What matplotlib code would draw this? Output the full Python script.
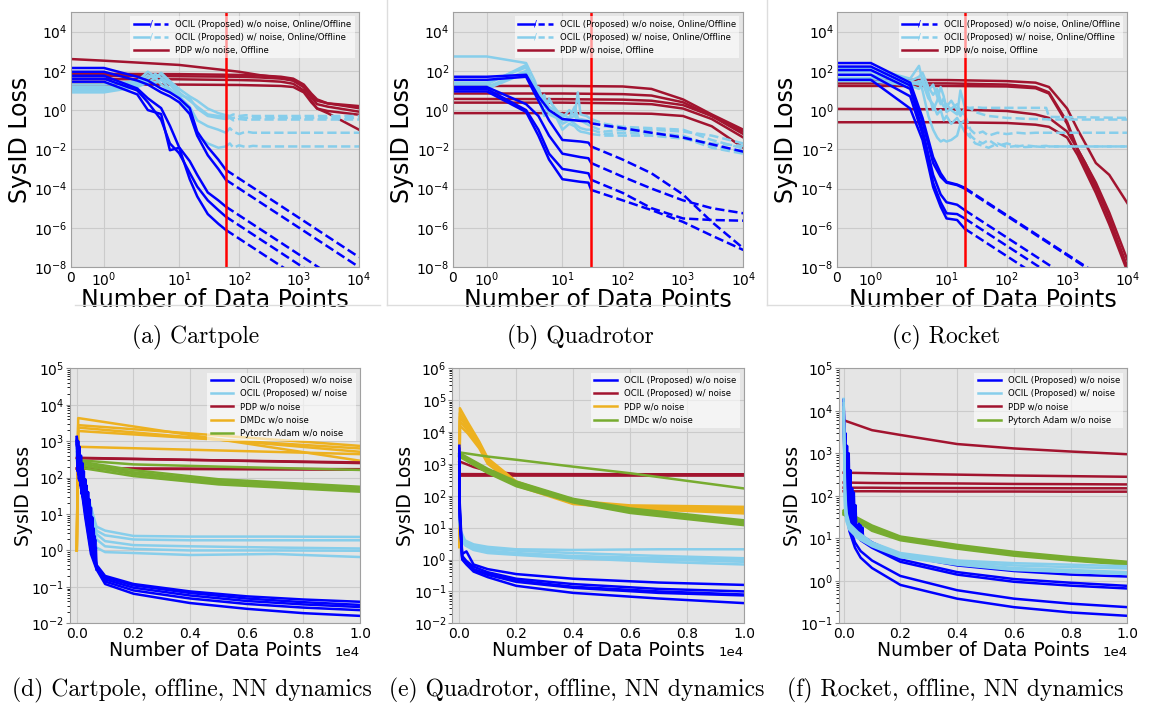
import matplotlib
matplotlib.use("Agg")
import matplotlib.pyplot as plt
import matplotlib.ticker as mticker
from matplotlib.lines import Line2D
from matplotlib.text import Text
from matplotlib.legend_handler import HandlerBase

plt.rcParams["axes.unicode_minus"] = False

BLUE = "#0000ff"
SKY = "#87ceeb"
RED = "#a2142f"
ORANGE = "#edb120"
GREEN = "#77ac30"
BG = "#e5e5e5"

# ---------------- (a) Cartpole ----------------
a_split = 60
a_blue_x = [0, 1, 2, 3, 5, 7, 10, 15, 20, 30, 45, 60]
a_blue = [
    [140, 140, 50, 32, 12.6, 8, 4, 1.26, 0.08, 0.013, 0.003, 9e-4],
    [90, 90, 32, 20, 8, 5, 2.5, 0.63, 0.05, 0.005, 1e-3, 2.8e-4],
    [56, 56, 12.6, 4, 1.26, 0.16, 0.0126, 2.5e-3, 5e-4, 6.3e-5, 2.5e-5, 1.2e-5],
    [40, 40, 10, 2.5, 0.32, 0.02, 6.3e-3, 6.3e-4, 1.26e-4, 2.5e-5, 8e-6, 3.7e-6],
    [28, 28, 6.3, 1, 0.63, 0.009, 0.012, 3e-4, 4e-5, 5e-6, 1.6e-6, 7.8e-7],
]
a_blue_off_x = [60, 10000]
a_blue_off = [[9e-4, 3.2e-8], [2.8e-4, 1e-8], [1.2e-5, 4.3e-10],
              [3.7e-6, 1.3e-10], [7.8e-7, 2.8e-11]]
a_sky_x = [0, 1, 2, 3, 4, 5, 7, 10, 15, 20, 30, 45, 60]
a_sky = [
    [12, 12, 25, 60, 40, 80, 30, 12, 5, 3, 1.2, 0.7, 0.55],
    [20, 20, 30, 90, 50, 70, 25, 8, 3, 1.5, 0.6, 0.5, 0.45],
    [15, 15, 20, 40, 70, 45, 20, 6, 4, 1.2, 0.5, 0.4, 0.35],
    [10, 10, 18, 30, 25, 35, 12, 5, 1.5, 0.3, 0.15, 0.1, 0.07],
    [8, 8, 15, 25, 45, 20, 10, 4, 0.8, 0.05, 0.02, 0.012, 0.014],
]
a_sky_off_x = [60, 70, 80, 100, 130, 170, 250, 10000]
a_sky_off = [
    [0.55, 0.5, 0.6, 0.5, 0.55, 0.5, 0.5, 0.5],
    [0.45, 0.42, 0.4, 0.45, 0.4, 0.42, 0.4, 0.4],
    [0.35, 0.4, 0.3, 0.35, 0.32, 0.33, 0.33, 0.33],
    [0.07, 0.12, 0.08, 0.06, 0.08, 0.07, 0.07, 0.07],
    [0.014, 0.02, 0.012, 0.016, 0.013, 0.015, 0.014, 0.014],
]
a_red_x = [0, 1, 10, 100, 224, 500, 800, 1200, 1600, 2000, 3000, 10000]
a_red = [
    [400, 330, 200, 90, 60, 45, 32, 15, 5, 3, 2.2, 1.6],
    [70, 70, 68, 62, 58, 50, 40, 20, 7, 3.5, 2.2, 1.25],
    [55, 55, 53, 50, 46, 40, 32, 15, 4.5, 2, 1.5, 0.83],
    [38, 38, 37, 34, 32, 28, 22, 10, 3, 1.2, 0.9, 0.58],
    [20, 20, 20, 19, 18, 17, 15, 8, 2.5, 1.2, 0.7, 0.1],
]

# ---------------- (b) Quadrotor ----------------
b_split = 30
b_blue_x = [0, 1, 2.5, 4, 6, 10, 20, 27, 30]
b_blue = [
    [50, 50, 63, 5, 1, 0.35, 0.28, 0.27, 0.21],
    [35, 35, 50, 3, 0.3, 0.03, 0.025, 0.022, 0.014],
    [15, 15, 2, 0.5, 0.05, 0.006, 0.004, 0.0035, 0.002],
    [12, 12, 1.0, 0.1, 0.006, 1e-3, 7e-4, 6e-4, 2.8e-4],
    [9, 9, 0.8, 0.05, 0.003, 3e-4, 2.2e-4, 2e-4, 8.5e-5],
]
b_blue_off_x = [30, 100, 300, 1000, 3000, 10000]
b_blue_off = [
    [0.21, 0.12, 0.07, 0.04, 0.018, 0.0076],
    [0.014, 3e-3, 6e-4, 5e-5, 2e-6, 9e-8],
    [0.002, 4e-4, 1e-4, 2.5e-5, 1e-5, 5.5e-6],
    [2.8e-4, 6e-5, 1e-5, 3e-6, 2.5e-6, 2.3e-6],
    [8.5e-5, 2.5e-5, 8e-6, 2e-6, 4e-7, 7.4e-8],
]
b_sky_x = [0, 1, 2.5, 3.5, 4, 5, 6, 8, 10, 13, 16, 18, 20, 25, 30]
b_sky = [
    [540, 540, 250, 30, 8, 3, 1.5, 0.8, 0.6, 0.4, 0.5, 0.3, 0.35, 0.3, 0.25],
    [25, 25, 150, 10, 15, 1.5, 3, 1, 0.4, 1, 0.5, 8, 0.6, 0.5, 0.35],
    [15, 15, 100, 15, 5, 0.5, 4, 0.7, 0.3, 0.4, 1.5, 0.4, 0.3, 0.2, 0.15],
    [20, 20, 200, 8, 12, 2, 0.8, 0.5, 0.2, 0.3, 0.2, 0.15, 0.12, 0.1, 0.1],
    [12, 12, 80, 20, 3, 6, 0.6, 0.4, 0.1, 0.2, 0.15, 0.1, 0.08, 0.07, 0.06],
]
b_sky_off_x = [30, 50, 100, 300, 1000, 3000, 10000]
b_sky_off = [
    [0.25, 0.15, 0.12, 0.1, 0.08, 0.05, 0.02],
    [0.35, 0.2, 0.14, 0.12, 0.1, 0.03, 0.011],
    [0.15, 0.08, 0.1, 0.07, 0.05, 0.015, 0.0076],
    [0.1, 0.06, 0.07, 0.06, 0.04, 0.012, 0.006],
    [0.06, 0.05, 0.05, 0.05, 0.035, 0.02, 0.015],
]
b_red_x = [0, 10, 100, 300, 1000, 3000, 10000]
b_red = [
    [17, 17, 16, 12, 3.5, 0.6, 0.1],
    [7, 7, 6.5, 5.5, 2.5, 0.5, 0.08],
    [3.7, 3.6, 3.4, 3.0, 1.8, 0.5, 0.06],
    [2.4, 2.4, 2.2, 2.0, 1.2, 0.35, 0.04],
    [0.7, 0.7, 0.68, 0.65, 0.5, 0.15, 0.012],
]

# ---------------- (c) Rocket ----------------
c_split = 20
c_blue_x = [0, 1, 2.5, 4, 6, 8, 10, 15, 20]
c_blue = [
    [250, 250, 25, 0.4, 4e-3, 6e-4, 2.2e-4, 1.6e-4, 1.1e-4],
    [165, 165, 18, 0.25, 2e-3, 4e-4, 2e-4, 1.5e-4, 1e-4],
    [110, 110, 12, 0.1, 5e-4, 5e-5, 2e-5, 1.5e-5, 8e-6],
    [63, 63, 5, 0.06, 2e-4, 2e-5, 5.5e-6, 5e-6, 3e-6],
    [35, 35, 1.2, 0.03, 1.2e-4, 1.2e-5, 3e-6, 2.5e-6, 9e-7],
]
c_blue_off_x = [20, 10000]
c_blue_off = [[1.1e-4, 4.4e-10], [1e-4, 4e-10], [8e-6, 3.2e-11],
              [3e-6, 1.2e-11], [9e-7, 3.6e-12]]
c_sky_x = [0, 1, 2.5, 3.5, 4, 5, 6, 7, 8, 9, 10, 12, 15, 17, 20]
c_sky = [
    [140, 140, 40, 180, 30, 10, 20, 5, 2, 4, 1.5, 3, 1, 0.5, 1.2],
    [93, 93, 30, 50, 80, 15, 6, 12, 3, 1.5, 2, 1, 0.6, 10, 1.5],
    [63, 63, 25, 20, 40, 8, 1, 3, 15, 5, 0.8, 1.2, 2, 0.8, 0.6],
    [43, 43, 20, 30, 10, 0.5, 0.1, 0.04, 0.025, 0.03, 0.025, 0.03, 0.05, 0.2, 0.3],
    [30, 30, 18, 12, 25, 4, 2, 0.6, 1, 0.3, 0.5, 0.2, 0.4, 0.2, 0.08],
]
c_sky_off_x = [20, 25, 30, 40, 50, 70, 100, 150, 200, 300, 450, 500, 10000]
c_sky_off = [
    [1.2, 1.3, 1.4, 1.3, 1.3, 1.3, 1.3, 1.3, 1.3, 1.3, 1.3, 0.45, 0.4],
    [1.5, 1.2, 0.8, 0.6, 0.5, 0.45, 0.4, 0.38, 0.36, 0.35, 0.34, 0.33, 0.33],
    [0.6, 0.1, 0.06, 0.08, 0.05, 0.07, 0.06, 0.07, 0.065, 0.07, 0.07, 0.07, 0.07],
    [0.3, 0.05, 0.03, 0.02, 0.03, 0.015, 0.02, 0.014, 0.016, 0.014, 0.015, 0.014, 0.014],
    [0.08, 0.04, 0.02, 0.015, 0.012, 0.02, 0.013, 0.015, 0.013, 0.014, 0.013, 0.014, 0.014],
]
c_red_x = [0, 10, 100, 300, 500, 1000, 1500, 2000, 3000, 5000, 10000]
c_red = [
    [35, 34, 30, 25, 15, 1.2, 0.1, 0.02, 2e-3, 5e-4, 1.8e-5],
    [23, 23, 20, 15, 8, 0.25, 0.01, 2e-3, 2e-4, 6e-6, 2.3e-8],
    [17, 17, 16, 13, 7, 0.2, 8e-3, 1.2e-3, 1e-4, 3e-6, 8e-9],
    [1.15, 1.1, 0.9, 0.6, 0.4, 0.08, 0.01, 2e-3, 1.5e-4, 3e-6, 1e-8],
    [0.24, 0.24, 0.22, 0.18, 0.14, 0.04, 5e-3, 8e-4, 6e-5, 1.5e-6, 6e-9],
]

# ---------------- (d) Cartpole, offline, NN ----------------
d_orange_x = [0, 50, 10000]
d_orange = [[1, 4300, 290], [1, 2750, 740], [1, 2350, 510], [1, 1900, 630], [1, 700, 440]]
d_red_x = [0, 10000]
d_red = [[350, 250], [340, 260], [180, 170], [175, 165]]
d_green_x = [50, 2000, 5000, 10000]
d_green = [[300, 230, 200, 162], [280, 160, 90, 56], [250, 140, 80, 50],
           [220, 125, 72, 46], [190, 110, 65, 41]]
d_sky_x = [0, 100, 300, 600, 700, 1000, 2000, 4000, 7000, 10000]
d_sky = [
    [800, 300, 60, 8, 4.5, 3.5, 2.5, 2.4, 2.4, 2.35],
    [600, 200, 40, 6, 3.5, 2.6, 2.0, 1.9, 1.9, 1.9],
    [500, 150, 30, 5, 2.8, 1.8, 1.4, 1.3, 1.2, 1.13],
    [400, 120, 25, 4, 2.0, 1.3, 1.1, 1.0, 1.0, 0.98],
    [300, 100, 20, 3, 1.2, 0.9, 0.85, 0.75, 0.8, 0.66],
]
d_blue_x = [0, 100, 300, 500, 700, 1000, 2000, 4000, 6000, 8000, 10000]
d_blue = [
    [1300, 300, 20, 2, 0.4, 0.2, 0.12, 0.075, 0.055, 0.045, 0.039],
    [1100, 250, 15, 1.5, 0.37, 0.18, 0.11, 0.068, 0.048, 0.038, 0.032],
    [1000, 200, 12, 1.2, 0.34, 0.16, 0.095, 0.058, 0.041, 0.033, 0.028],
    [900, 150, 10, 1.0, 0.32, 0.14, 0.08, 0.048, 0.034, 0.027, 0.023],
    [800, 120, 8, 0.8, 0.3, 0.12, 0.065, 0.036, 0.025, 0.019, 0.016],
]
d_noise_x = [0, 25, 50, 75, 100, 125, 150, 175, 200, 225, 250, 275, 300, 325, 350,
             375, 400, 425, 450, 475, 500, 525, 550, 575, 600, 625, 650, 675, 700]
d_noise = [
    [1300, 150, 1000, 90, 700, 60, 400, 35, 250, 25, 150, 15, 90, 10, 60,
     6, 40, 4, 25, 2.5, 15, 1.6, 8, 1.0, 4, 0.7, 2, 0.5, 0.35],
    [1000, 600, 120, 500, 80, 300, 50, 200, 30, 130, 20, 80, 12, 50, 8,
     30, 5, 20, 3, 12, 2, 7, 1.2, 4, 0.8, 2.5, 0.6, 1.2, 0.3],
]

# ---------------- (e) Quadrotor, offline, NN ----------------
e_orange_x = [0, 20, 300, 700, 1000, 2000, 4000, 6000, 10000]
e_orange = [
    [2.5, 5.6e4, 2e4, 5000, 1500, 280, 70, 50, 45],
    [2.5, 4e4, 1.6e4, 4500, 1300, 260, 65, 47, 40],
    [2.5, 3e4, 1.3e4, 4000, 1200, 240, 60, 44, 35],
    [2.5, 2.2e4, 1.1e4, 3500, 1100, 230, 58, 42, 32],
    [2.5, 1.6e4, 9000, 3100, 1000, 210, 55, 40, 28],
]
e_green_x = [0, 1000, 2000, 4000, 6000, 10000]
e_green = [
    [2300, 1700, 1350, 820, 510, 170],
    [2200, 700, 280, 80, 40, 17],
    [2050, 650, 260, 75, 37, 15.5],
    [1900, 600, 240, 70, 34, 14],
    [1800, 550, 220, 65, 31, 13],
    [1700, 520, 200, 62, 29, 12],
]
e_red_x = [0, 500, 1000, 2000, 10000]
e_red = [[1200, 800, 600, 480, 470], [460, 460, 460, 460, 460],
         [480, 478, 476, 474, 472], [440, 440, 442, 445, 445]]
e_sky_x = [0, 50, 200, 500, 1000, 2000, 4000, 7000, 10000]
e_sky = [
    [50, 8, 4, 3, 2.5, 2.1, 2.0, 2.1, 2.1],
    [40, 7, 3.5, 2.6, 2.2, 1.9, 1.6, 1.3, 1.1],
    [30, 6, 3.2, 2.3, 1.9, 1.6, 1.3, 1.1, 1.0],
    [25, 5.5, 3, 2.1, 1.7, 1.5, 1.2, 1.0, 0.85],
    [20, 5, 2.8, 2.0, 1.6, 1.4, 1.1, 0.85, 0.7],
]
e_blue_x = [0, 15, 100, 250, 500, 1000, 2000, 4000, 7000, 10000]
e_blue = [
    [3700, 60, 1.5, 1.8, 0.7, 0.5, 0.35, 0.25, 0.19, 0.16],
    [3000, 40, 1.3, 0.9, 0.6, 0.4, 0.25, 0.17, 0.12, 0.1],
    [2000, 30, 1.2, 0.8, 0.5, 0.35, 0.22, 0.14, 0.1, 0.08],
    [1500, 25, 1.1, 0.75, 0.48, 0.33, 0.2, 0.13, 0.09, 0.075],
    [1000, 20, 1.0, 0.7, 0.42, 0.28, 0.15, 0.09, 0.06, 0.043],
]

# ---------------- (f) Rocket, offline, NN ----------------
f_red_x = [0, 1000, 2000, 4000, 6000, 8000, 10000]
f_red = [
    [6000, 3500, 2700, 1650, 1300, 1100, 950],
    [350, 340, 330, 315, 300, 290, 280],
    [205, 200, 198, 195, 190, 188, 185],
    [155, 155, 153, 152, 151, 150, 150],
    [128, 128, 127, 126, 126, 125, 125],
]
f_green_x = [0, 500, 1000, 2000, 4000, 6000, 8000, 10000]
f_green = [
    [45, 30, 20, 11, 7, 4.8, 3.6, 2.8],
    [42, 28, 18, 10.5, 6.5, 4.5, 3.4, 2.7],
    [40, 27, 17, 10, 6.2, 4.3, 3.3, 2.6],
    [38, 26, 16, 9.5, 6, 4.1, 3.1, 2.5],
    [36, 25, 15, 9, 5.7, 3.9, 3.0, 2.4],
]
f_sky_x = [0, 50, 100, 200, 500, 1000, 2000, 4000, 6000, 8000, 10000]
f_sky = [
    [1.9e4, 150, 40, 22, 14, 8, 4.5, 3.0, 2.6, 2.4, 2.2],
    [1.5e4, 100, 35, 20, 13, 7.5, 4.2, 2.8, 2.3, 2.1, 1.95],
    [1.2e4, 80, 30, 18, 12, 7, 4, 2.6, 2.0, 1.8, 1.6],
    [1e4, 60, 28, 17, 11, 6.8, 3.8, 2.5, 1.9, 1.7, 1.5],
    [8000, 50, 25, 16, 10, 6.5, 3.6, 2.4, 1.8, 1.6, 1.45],
]
f_blue_x = [0, 30, 100, 200, 400, 600, 1000, 2000, 4000, 6000, 8000, 10000]
f_blue = [
    [1.8e4, 2000, 300, 60, 20, 12, 8, 4, 2.3, 1.7, 1.4, 1.26],
    [1.5e4, 1500, 200, 40, 15, 10, 6.5, 3.2, 1.6, 1.1, 0.9, 0.76],
    [1.2e4, 1000, 150, 30, 14, 9, 6, 2.8, 1.4, 0.95, 0.77, 0.66],
    [1e4, 800, 100, 20, 8, 5, 3, 1.3, 0.6, 0.38, 0.29, 0.24],
    [8000, 600, 60, 15, 6, 3.5, 2, 0.8, 0.38, 0.24, 0.18, 0.15],
]
f_noise_x = [0, 30, 60, 90, 120, 150, 180, 210, 240, 270, 300, 330,
             360, 390, 420, 450, 480, 510, 540, 570, 600, 630, 660, 690]
f_noise = [1.8e4, 1000, 3000, 200, 1500, 100, 1000, 60, 400, 40, 150, 30,
           120, 25, 60, 15, 20, 12, 22, 11, 20, 10, 18, 10]


class SolidSlashDashed(HandlerBase):
    def create_artists(self, legend, orig_handle, xdescent, ydescent,
                       width, height, fontsize, trans):
        c = orig_handle.get_color()
        lw = orig_handle.get_linewidth()
        y = height / 2 - ydescent
        x0 = -xdescent
        solid = Line2D([x0, x0 + 0.45 * width], [y, y], color=c, lw=lw)
        dashed = Line2D([x0 + 0.58 * width, x0 + width], [y, y], color=c, lw=lw,
                        ls=(0, (2.5, 1.5)))
        slash = Text(x0 + 0.5 * width, y, "/", color=c, fontsize=fontsize,
                     ha="center", va="center")
        for art in (solid, dashed, slash):
            art.set_transform(trans)
        return [solid, slash, dashed]


def style_axes(ax):
    ax.set_facecolor(BG)
    ax.grid(True, color="#cbcbcb", lw=0.8)
    ax.set_axisbelow(True)
    for sp in ax.spines.values():
        sp.set_color("#a0a0a0")
        sp.set_linewidth(0.8)
    ax.tick_params(colors="#888888", labelcolor="black", labelsize=10)


def top_panel(ax, split, bx, blue, box, boff, sx, sky, sox, soff, rx, red):
    lw = 1.8
    for y in red:
        ax.plot(rx, y, color=RED, lw=lw)
    for y in sky:
        ax.plot(sx, y, color=SKY, lw=lw)
    for y in soff:
        ax.plot(sox, y, color=SKY, lw=lw, ls="--")
    for y in blue:
        ax.plot(bx, y, color=BLUE, lw=lw)
    for y in boff:
        ax.plot(box, y, color=BLUE, lw=lw, ls="--")
    ax.axvline(split, color="red", lw=1.8)
    ax.set_xscale("symlog", linthresh=2)
    ax.set_yscale("log")
    ax.set_xlim(0, 1e4)
    ax.set_ylim(1e-8, 1e5)
    ax.set_xticks([0, 1, 10, 100, 1000, 10000])
    ax.set_yticks([1e-8, 1e-6, 1e-4, 1e-2, 1, 1e2, 1e4])
    ax.xaxis.set_minor_locator(mticker.NullLocator())
    ax.yaxis.set_minor_locator(mticker.NullLocator())
    style_axes(ax)
    ax.tick_params(length=0, pad=2.5)
    ax.set_xlabel("Number of Data Points", fontsize=17, labelpad=-1)
    ax.set_ylabel("SysID Loss", fontsize=17, labelpad=1.5)
    hb = Line2D([], [], color=BLUE, lw=lw)
    hs = Line2D([], [], color=SKY, lw=lw)
    hr = Line2D([], [], color=RED, lw=lw)
    ax.legend([hb, hs, hr],
              ["OCIL (Proposed) w/o noise, Online/Offline",
               "OCIL (Proposed) w/ noise, Online/Offline",
               "PDP w/o noise, Offline"],
              handler_map={hb: SolidSlashDashed(), hs: SolidSlashDashed()},
              loc="upper right", fontsize=6.1, handlelength=4.1,
              fancybox=False, edgecolor="none", framealpha=0.6)


def bottom_panel(ax, groups, legend_items, ylim, xmin):
    for x, ys, color in groups:
        for y in ys:
            ax.plot(x, y, color=color, lw=1.8)
    ax.set_yscale("log")
    ax.set_xlim(xmin, 1e4)
    ax.set_ylim(*ylim)
    ax.ticklabel_format(axis="x", style="sci", scilimits=(0, 0))
    ax.set_xticks([0, 2000, 4000, 6000, 8000, 10000])
    ax.yaxis.set_major_locator(mticker.LogLocator(base=10, numticks=20))
    style_axes(ax)
    ax.tick_params(axis="x", length=0, pad=3)
    ax.tick_params(axis="y", which="both", pad=1)
    ax.tick_params(axis="y", which="major", length=3)
    ax.tick_params(axis="y", which="minor", length=2)
    ax.xaxis.get_offset_text().set_fontsize(9.5)
    ax.set_xlabel("Number of Data Points", fontsize=13.5, labelpad=0)
    ax.set_ylabel("SysID Loss", fontsize=13.5, labelpad=-1)
    handles = [Line2D([], [], color=c, lw=1.8) for c, _ in legend_items]
    ax.legend(handles, [t for _, t in legend_items], loc="upper right",
              fontsize=6.1, handlelength=2.7, fancybox=False,
              edgecolor="none", framealpha=0.6)


fig = plt.figure(figsize=(11.51, 7.10), dpi=100)

ax_a = fig.add_axes([0.0614, 0.6239, 0.2505, 0.3592])
ax_b = fig.add_axes([0.3938, 0.6239, 0.2520, 0.3592])
ax_c = fig.add_axes([0.7275, 0.6239, 0.2520, 0.3592])
ax_d = fig.add_axes([0.0608, 0.1221, 0.2520, 0.3592])
ax_e = fig.add_axes([0.3930, 0.1221, 0.2534, 0.3592])
ax_f = fig.add_axes([0.7290, 0.1221, 0.2505, 0.3592])

top_panel(ax_a, a_split, a_blue_x, a_blue, a_blue_off_x, a_blue_off,
          a_sky_x, a_sky, a_sky_off_x, a_sky_off, a_red_x, a_red)
top_panel(ax_b, b_split, b_blue_x, b_blue, b_blue_off_x, b_blue_off,
          b_sky_x, b_sky, b_sky_off_x, b_sky_off, b_red_x, b_red)
top_panel(ax_c, c_split, c_blue_x, c_blue, c_blue_off_x, c_blue_off,
          c_sky_x, c_sky, c_sky_off_x, c_sky_off, c_red_x, c_red)

bottom_panel(ax_d,
             [(d_orange_x, d_orange, ORANGE), (d_red_x, d_red, RED),
              (d_green_x, d_green, GREEN), (d_sky_x, d_sky, SKY),
              (d_noise_x, d_noise, BLUE), (d_blue_x, d_blue, BLUE)],
             [(BLUE, "OCIL (Proposed) w/o noise"), (SKY, "OCIL (Proposed) w/ noise"),
              (RED, "PDP w/o noise"), (ORANGE, "DMDc w/o noise"),
              (GREEN, "Pytorch Adam w/o noise")],
             (1e-2, 1e5), -240)
bottom_panel(ax_e,
             [(e_red_x, e_red, RED), (e_orange_x, e_orange, ORANGE),
              (e_green_x, e_green, GREEN), (e_sky_x, e_sky, SKY),
              (e_blue_x, e_blue, BLUE)],
             [(BLUE, "OCIL (Proposed) w/o noise"), (RED, "OCIL (Proposed) w/ noise"),
              (ORANGE, "PDP w/o noise"), (GREEN, "DMDc w/o noise")],
             (1e-2, 1e6), -245)
bottom_panel(ax_f,
             [(f_red_x, f_red, RED), (f_green_x, f_green, GREEN),
              (f_blue_x, f_blue, BLUE), (f_noise_x, [f_noise], BLUE),
              (f_sky_x, f_sky, SKY)],
             [(BLUE, "OCIL (Proposed) w/o noise"), (SKY, "OCIL (Proposed) w/ noise"),
              (RED, "PDP w/o noise"), (GREEN, "Pytorch Adam w/o noise")],
             (1e-1, 1e5), -160)

captions = [(0.170, 0.525, "(a) Cartpole"), (0.504, 0.525, "(b) Quadrotor"),
            (0.822, 0.525, "(c) Rocket"),
            (0.167, 0.028, "(d) Cartpole, offline, NN dynamics"),
            (0.501, 0.028, "(e) Quadrotor, offline, NN dynamics"),
            (0.830, 0.028, "(f) Rocket, offline, NN dynamics")]
for cx, cy, s in captions:
    fig.text(cx, cy, s, family="cmr10", fontsize=17, ha="center", va="center")

# faint frame lines of the sub-figures
for xs, ys in [([0.336, 0.336], [1.0, 0.570]), ([0.666, 0.666], [1.0, 0.570]),
               ([0.065, 0.330], [0.570, 0.570]), ([0.336, 0.620], [0.570, 0.570]),
               ([0.666, 0.950], [0.570, 0.570])]:
    fig.add_artist(Line2D(xs, ys, transform=fig.transFigure, color="#dddddd", lw=1))

fig.savefig("out.png", dpi=100)
